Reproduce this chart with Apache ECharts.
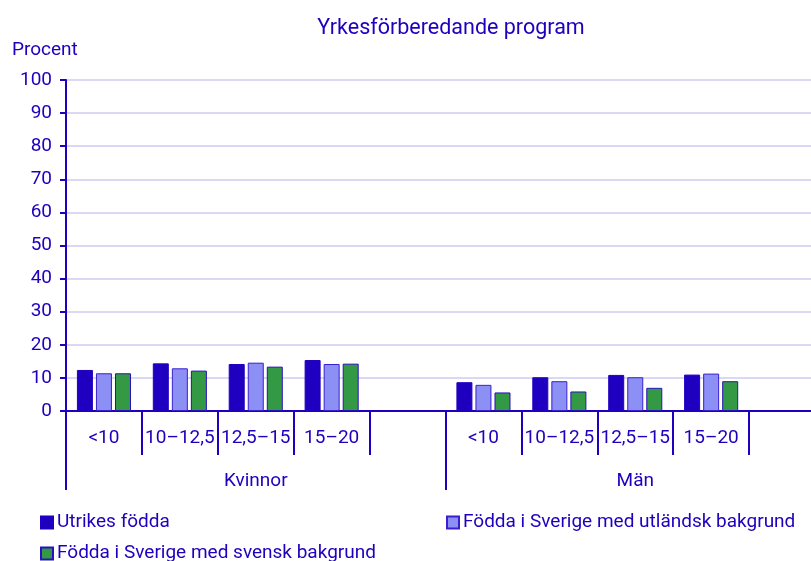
<!DOCTYPE html>
<html>
<head>
<meta charset="utf-8">
<script src="https://cdn.jsdelivr.net/npm/echarts@6/dist/echarts.min.js"></script>
<style>
  html, body { margin: 0; padding: 0; background: #fff; }
  #chart { width: 811px; height: 561px; }
</style>
</head>
<body>
<div id="chart"></div>
<script>
  // categories: Kvinnor (4 + empty), Män (4 + empty)
  const categories = ['<10', '10–12,5', '12,5–15', '15–20', '', '<10', '10–12,5', '12,5–15', '15–20', '']
  const groups = ['Kvinnor', 'Män']
  const seriesNames = ['Utrikes födda', 'Födda i Sverige med utländsk bakgrund', 'Födda i Sverige med svensk bakgrund']
  const utrikes = [12.4, 14.4, 14.2, 15.4, null, 8.7, 10.2, 10.9, 11.0, null]
  const utlBakgrund = [11.4, 12.9, 14.6, 14.2, null, 7.9, 9.0, 10.2, 11.3, null]
  const svBakgrund = [11.4, 12.2, 13.4, 14.3, null, 5.6, 5.9, 7.0, 9.0, null]

  const blue = '#1e00be'
  const font = 'Roboto'
  const colors = ['#1f00c0', '#8c8ff3', '#339944']

  const myChart = echarts.init(document.getElementById('chart'))
  myChart.setOption({
    animation: false,
    textStyle: { fontFamily: font },
    title: {
      text: 'Yrkesförberedande program',
      left: 446,
      textAlign: 'center',
      top: 13,
      textStyle: { color: blue, fontSize: 21.5, fontWeight: 'normal', fontFamily: font }
    },
    graphic: [{
      type: 'text',
      left: 12,
      top: 41,
      style: { text: 'Procent', fill: blue, fontSize: 19, fontFamily: font }
    }],
    legend: seriesNames.map((name, i) => ({
      data: [name],
      left: [35, 441, 35][i],
      top: [508, 508, 539][i],
      icon: 'rect',
      itemWidth: 12,
      itemHeight: 12,
      itemGap: 10,
      textStyle: { color: blue, fontSize: 19, fontFamily: font, padding: [0, 0, 0, -1] }
    })),
    grid: { left: 66, top: 80, width: 759, height: 331, outerBoundsMode: 'none', containLabel: false },
    xAxis: [{
      type: 'category',
      data: categories,
      axisLine: { lineStyle: { color: blue, width: 2 } },
      axisTick: { show: true, interval: 0, length: 44, lineStyle: { color: blue, width: 2 } },
      axisLabel: { interval: 0, margin: 18, color: blue, fontSize: 19, fontFamily: font }
    }, {
      type: 'category',
      data: groups,
      position: 'bottom',
      axisLine: { show: false },
      axisTick: { show: true, interval: 0, length: 79, lineStyle: { color: blue, width: 2 } },
      axisLabel: { interval: 0, margin: 61, color: blue, fontSize: 19, fontFamily: font }
    }],
    yAxis: {
      type: 'value',
      min: 0,
      max: 100,
      interval: 10,
      axisLine: { show: true, lineStyle: { color: blue, width: 2 } },
      axisTick: { show: true, length: 6, lineStyle: { color: blue, width: 2 } },
      axisLabel: { margin: 14, color: blue, fontSize: 19, fontFamily: font },
      splitLine: { lineStyle: { color: '#d9d9f3', width: 2 } }
    },
    series: [
      {
        name: seriesNames[0], type: 'bar', data: utrikes,
        barWidth: 16, barGap: '19%',
        itemStyle: { color: colors[0], borderColor: colors[0], borderWidth: 1 }
      },
      {
        name: seriesNames[1], type: 'bar', data: utlBakgrund,
        barWidth: 16, barGap: '19%',
        itemStyle: { color: colors[1], borderColor: '#3a1fd0', borderWidth: 1 }
      },
      {
        name: seriesNames[2], type: 'bar', data: svBakgrund,
        barWidth: 16, barGap: '19%',
        itemStyle: { color: colors[2], borderColor: '#2a10c0', borderWidth: 1 }
      }
    ]
  })
</script>
</body>
</html>
